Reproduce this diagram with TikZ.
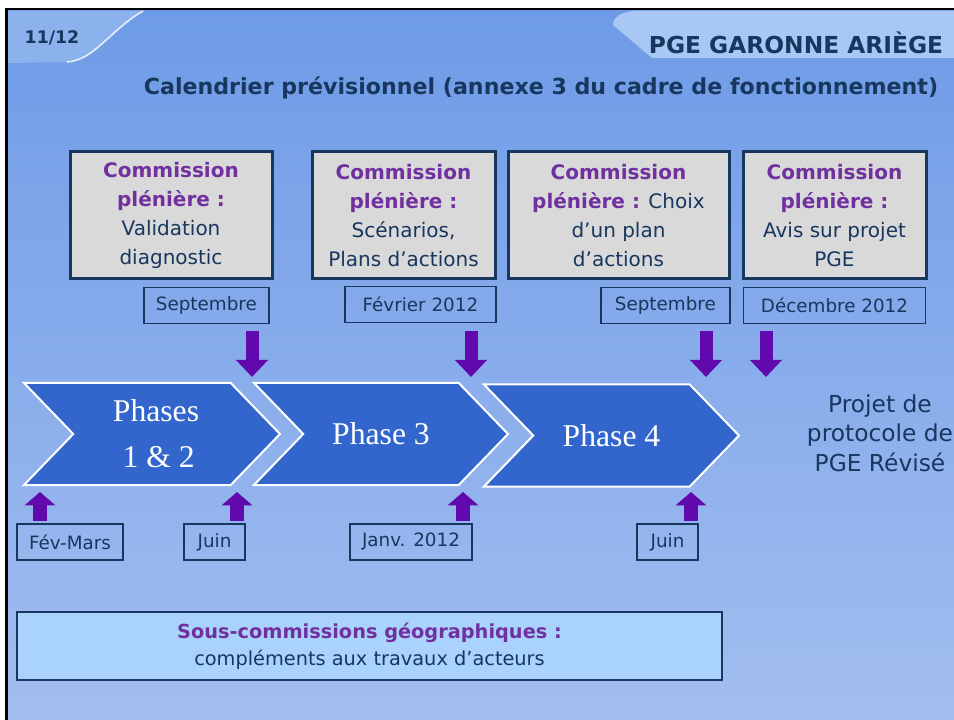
\documentclass[tikz,border=0pt]{standalone}
\usepackage{fontspec}
\setmainfont{DejaVu Sans}
\newfontfamily\phasefont{Liberation Serif}
\usepackage{tikz}
\usetikzlibrary{positioning,shapes.symbols,arrows.meta}

\definecolor{bgtop}{HTML}{6E9BE7}
\definecolor{bgbottom}{HTML}{A3BEF0}
\definecolor{lefttab}{HTML}{8CB2EE}
\definecolor{righttab}{HTML}{A9C7F5}
\definecolor{boxgray}{HTML}{D9D9D9}
\definecolor{phaseblue}{HTML}{3366CC}
\definecolor{arrowpurple}{HTML}{6109AD}
\definecolor{commpurple}{HTML}{7030A0}
\definecolor{textnavy}{HTML}{17375E}
\definecolor{subblue}{HTML}{A9D3FD}

\newcommand{\commtitle}[1]{\textcolor{commpurple}{\bfseries #1}}

\begin{document}
\begin{tikzpicture}[x=0.75pt, y=-0.75pt,
  commbox/.style={draw=textnavy, line width=2.25pt, fill=boxgray, align=center,
    inner sep=0pt, minimum height=95.25pt, text=textnavy,
    font=\fontsize{15}{21.75}\selectfont},
  datebox/.style={draw=textnavy, line width=0.9pt, align=center, inner sep=0pt,
    minimum height=27pt, text=textnavy, font=\fontsize{13.75}{16}\selectfont},
  phase/.style={signal, signal to=east, signal from=west, signal pointer angle=92,
    fill=phaseblue, draw=white, line width=1.5pt, minimum height=76.5pt,
    inner sep=0pt, text=white, align=center,
    font=\phasefont\fontsize{23.75}{34.5}\selectfont},
  downarrow/.style={draw=arrowpurple, line width=9.75pt,
    -{Triangle[width=23.25pt,length=12.75pt]}},
  uparrow/.style={draw=arrowpurple, line width=10.5pt,
    -{Triangle[width=22.5pt,length=10pt]}}
  ]
  \useasboundingbox (0,0) rectangle (954,720);

  % Slide background
  \fill[black] (5,8) rectangle (954,720);
  \shade[top color=bgtop, bottom color=bgbottom] (8,11) rectangle (954,720);

  % Header tabs
  \fill[lefttab] (8,11) -- (143,11) .. controls (110,30) and (95,60) .. (67,62)
    -- (8,63) -- cycle;
  \draw[white, line width=1.2pt, opacity=0.8] (143,11) .. controls (110,30) and (95,60) .. (67,62);
  \fill[righttab] (632,11) .. controls (618,13) and (612,20) .. (613,25)
    -- (652,58) -- (954,58) -- (954,11) -- cycle;
  \node[font=\bfseries\fontsize{13}{13}\selectfont, text=textnavy] (page) at (52,38) {11/12};
  \node[font=\bfseries\fontsize{17.5}{17.5}\selectfont, text=textnavy] (head) at (796,43) {PGE GARONNE ARIÈGE};
  \node[font=\bfseries\fontsize{16.6}{16.6}\selectfont, text=textnavy] (title) at (541,88)
    {Calendrier prévisionnel (annexe 3 du cadre de fonctionnement)};

  % Commission plenieres
  \node[commbox, minimum width=151.5pt] (c1) at (171,215.5)
    {\commtitle{Commission}\\ \commtitle{plénière~:}\\ Validation\\ diagnostic};
  \node[commbox, minimum width=137.25pt] (c2) at (403.5,215.5)
    {\commtitle{Commission}\\ \commtitle{plénière~:}\\ Scénarios,\\ Plans d’actions};
  \node[commbox, minimum width=165.75pt] (c3) at (618.5,215.5)
    {\commtitle{Commission}\\ \commtitle{plénière~:} Choix\\ d’un plan\\ d’actions};
  \node[commbox, minimum width=137.25pt] (c4) at (834.5,215.5)
    {\commtitle{Commission}\\ \commtitle{plénière~:}\\ Avis sur projet\\ PGE};

  % Dates
  \node[datebox, minimum width=93.75pt, below=5pt of c1.south east, anchor=north east, xshift=-3pt] (d1) {Septembre};
  \node[datebox, minimum width=113.25pt, below=4pt of c2.south east, anchor=north east] (d2) {Février 2012};
  \node[datebox, minimum width=96.75pt, below=5pt of c3.south east, anchor=north east] (d3) {Septembre};
  \node[datebox, minimum width=136.5pt, below=5pt of c4.south] (d4) {Décembre 2012};

  % Phases
  \node[phase, minimum width=192pt] (p1) at (152,434) {\hspace*{6pt}Phases\\\hspace*{10pt}1 \& 2};
  \node[phase, minimum width=190.5pt] (p2) at (381,434) {Phase 3};
  \node[phase, minimum width=191.25pt] (p3) at (611.5,435.5) {Phase 4};

  \node[align=center, text=textnavy, font=\fontsize{17.5}{22}\selectfont] (projet) at (880,433)
    {Projet de\\ protocole de\\ PGE Révisé};

  % Arrows
  \foreach \x in {252,471,706,766}
    \draw[downarrow] (\x,331) -- (\x,377);
  \foreach \x in {40,237,463,691}
    \draw[uparrow] (\x,521) -- (\x,492);

  % Dates under phases
  \node[datebox, minimum width=79.5pt] (b1) at (70,542) {Fév-Mars};
  \node[datebox, minimum width=45.75pt] (b2) at (214.5,542) {Juin};
  \node[datebox, minimum width=91.5pt] (b3) at (411,542) {Janv. 2012};
  \node[datebox, minimum width=45.75pt] (b4) at (667.5,542) {Juin};

  % Sous-commissions
  \node[draw=textnavy, line width=1.9pt, fill=subblue, minimum width=528.75pt,
    minimum height=51pt, align=center, text=textnavy,
    font=\fontsize{14.5}{20}\selectfont] (sub) at (369.5,646)
    {\commtitle{Sous-commissions géographiques~:}\\ compléments aux travaux d’acteurs};
\end{tikzpicture}
\end{document}
